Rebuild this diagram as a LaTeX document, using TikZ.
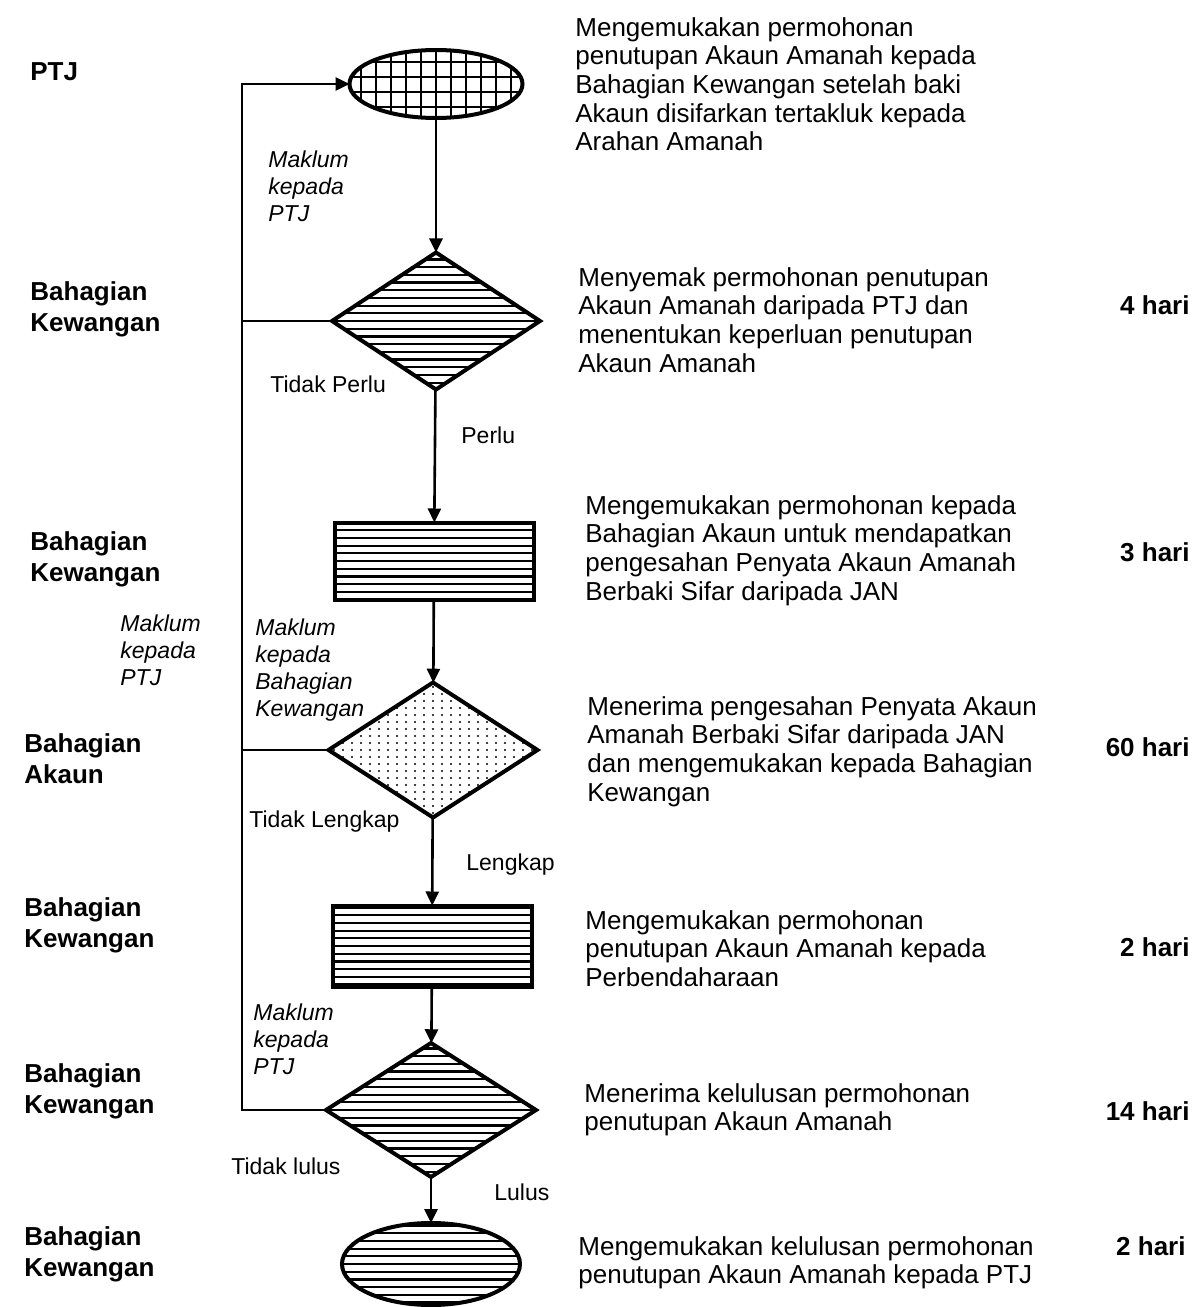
\documentclass[tikz,border=0pt]{standalone}
\usepackage{fontspec}
\setmainfont{Liberation Sans}
\usetikzlibrary{shapes.geometric,arrows.meta}

\begin{document}
\begin{tikzpicture}[
    x=0.5pt, y=-0.5pt,
    bentuk/.style={
        draw,
        line width=2pt,
        inner sep=0pt,
        outer sep=0pt
    },
    jalur/.style={
        path picture={
            \foreach \k in {-12,...,12}
                \draw[line width=1.1pt]
                    ([yshift=\k*3.85pt]path picture bounding box.west) --
                    ([yshift=\k*3.85pt]path picture bounding box.east);
        }
    },
    petak/.style={
        path picture={
            \foreach \k in {-8,...,8}{
                \draw[line width=1pt]
                    ([xshift=\k*7.5pt]path picture bounding box.north) --
                    ([xshift=\k*7.5pt]path picture bounding box.south);
                \draw[line width=1pt]
                    ([yshift=\k*7.5pt+3.75pt]path picture bounding box.west) --
                    ([yshift=\k*7.5pt+3.75pt]path picture bounding box.east);
            }
        }
    },
    bintik/.style={
        path picture={
            \foreach \i in {-12,...,12}
                \foreach \j in {-10,...,10}
                    \fill ([xshift=\i*4.5pt, yshift=\j*3.5pt]path picture bounding box.center)
                        circle (0.55pt);
        }
    },
    aliran/.style={
        line width=1.3pt,
        -{Triangle[length=7pt, width=6.5pt]}
    },
    garis/.style={
        line width=1.3pt
    },
    jabatan/.style={
        font=\fontsize{13}{15.5}\selectfont\bfseries,
        align=left,
        anchor=north west,
        inner sep=0pt
    },
    huraian/.style={
        font=\fontsize{13}{14.3}\selectfont,
        align=left,
        anchor=north west,
        inner sep=0pt
    },
    tempoh/.style={
        font=\fontsize{13}{15}\selectfont\bfseries,
        anchor=north east,
        inner sep=0pt
    },
    catatan/.style={
        font=\fontsize{11.5}{13.5}\selectfont\itshape,
        align=left,
        anchor=north west,
        inner sep=0pt
    },
    keputusan/.style={
        font=\fontsize{11.5}{13.5}\selectfont,
        anchor=north west,
        inner sep=0pt
    }
]

\useasboundingbox (0,0) rectangle (1201,1307);

%--- Bentuk carta alir ---
\node[bentuk, ellipse, petak, minimum width=86.5pt, minimum height=34pt]
    (mula) at (436, 84) {};
\node[bentuk, diamond, jalur, minimum width=104pt, minimum height=68.5pt]
    (semak) at (436, 321) {};
\node[bentuk, rectangle, jalur, minimum width=99.5pt, minimum height=38.5pt]
    (mohonJAN) at (434, 561) {};
\node[bentuk, diamond, bintik, minimum width=104.5pt, minimum height=67.5pt]
    (terima) at (433, 750) {};
\node[bentuk, rectangle, jalur, minimum width=99.5pt, minimum height=40.5pt]
    (mohonPerb) at (432, 946) {};
\node[bentuk, diamond, jalur, minimum width=105pt, minimum height=67pt]
    (lulus) at (431, 1110) {};
\node[bentuk, ellipse, jalur, minimum width=89pt, minimum height=41pt]
    (tamat) at (431, 1264) {};

%--- Aliran utama ---
\draw[aliran] (mula) -- (semak);
\draw[aliran] (semak) -- (mohonJAN);
\draw[aliran] (mohonJAN) -- (terima);
\draw[aliran] (terima) -- (mohonPerb);
\draw[aliran] (mohonPerb) -- (lulus);
\draw[aliran] (lulus) -- (tamat);

%--- Aliran balik ke PTJ ---
\coordinate (balik) at (242, 84);
\draw[garis] (semak.west) -- (semak.west -| balik);
\draw[garis] (terima.west) -- (terima.west -| balik);
\draw[aliran] (lulus.west) -| (balik) -- (mula.west);

%--- Jabatan (kiri) ---
\node[jabatan] (jPTJ) at (30, 62) {PTJ};
\node[jabatan] (jKew1) at (30, 281) {Bahagian\\Kewangan};
\node[jabatan] (jKew2) at (30, 531) {Bahagian\\Kewangan};
\node[jabatan] (jAkaun) at (24, 733) {Bahagian\\Akaun};
\node[jabatan] (jKew3) at (24, 897) {Bahagian\\Kewangan};
\node[jabatan] (jKew4) at (24, 1063) {Bahagian\\Kewangan};
\node[jabatan] (jKew5) at (24, 1226) {Bahagian\\Kewangan};

%--- Catatan makluman ---
\node[catatan] (maklum1) at (268, 150) {Maklum\\kepada\\PTJ};
\node[catatan] (maklum2) at (255, 618) {Maklum\\kepada\\Bahagian\\Kewangan};
\node[catatan] (maklum3) at (120, 614) {Maklum\\kepada\\PTJ};
\node[catatan] (maklum4) at (253, 1003) {Maklum\\kepada\\PTJ};

%--- Keputusan ---
\node[keputusan] (tidakPerlu) at (270, 375) {Tidak Perlu};
\node[keputusan] (perlu) at (461, 426) {Perlu};
\node[keputusan] (tidakLengkap) at (249, 810) {Tidak Lengkap};
\node[keputusan] (lengkap) at (466, 853) {Lengkap};
\node[keputusan] (tidakLulus) at (231, 1157) {Tidak lulus};
\node[keputusan] (lulusLbl) at (494, 1183) {Lulus};

%--- Huraian proses ---
\node[huraian] (h1) at (575, 17)
    {Mengemukakan permohonan\\penutupan Akaun Amanah kepada\\Bahagian Kewangan setelah baki\\Akaun disifarkan tertakluk kepada\\Arahan Amanah};
\node[huraian] (h2) at (578, 267)
    {Menyemak permohonan penutupan\\Akaun Amanah daripada PTJ dan\\menentukan keperluan penutupan\\Akaun Amanah};
\node[huraian] (h3) at (585, 495)
    {Mengemukakan permohonan kepada\\Bahagian Akaun untuk mendapatkan\\pengesahan Penyata Akaun Amanah\\Berbaki Sifar daripada JAN};
\node[huraian] (h4) at (587, 696)
    {Menerima pengesahan Penyata Akaun\\Amanah Berbaki Sifar daripada JAN\\dan mengemukakan kepada Bahagian\\Kewangan};
\node[huraian] (h5) at (585, 910)
    {Mengemukakan permohonan\\penutupan Akaun Amanah kepada\\Perbendaharaan};
\node[huraian] (h6) at (584, 1083)
    {Menerima kelulusan permohonan\\penutupan Akaun Amanah};
\node[huraian] (h7) at (578, 1236)
    {Mengemukakan kelulusan permohonan\\penutupan Akaun Amanah kepada PTJ};

%--- Tempoh ---
\node[tempoh] (t2) at (1190, 295) {4 hari};
\node[tempoh] (t3) at (1190, 542) {3 hari};
\node[tempoh] (t4) at (1190, 737) {60 hari};
\node[tempoh] (t5) at (1190, 937) {2 hari};
\node[tempoh] (t6) at (1190, 1101) {14 hari};
\node[tempoh] (t7) at (1186, 1236) {2 hari};

\end{tikzpicture}
\end{document}
